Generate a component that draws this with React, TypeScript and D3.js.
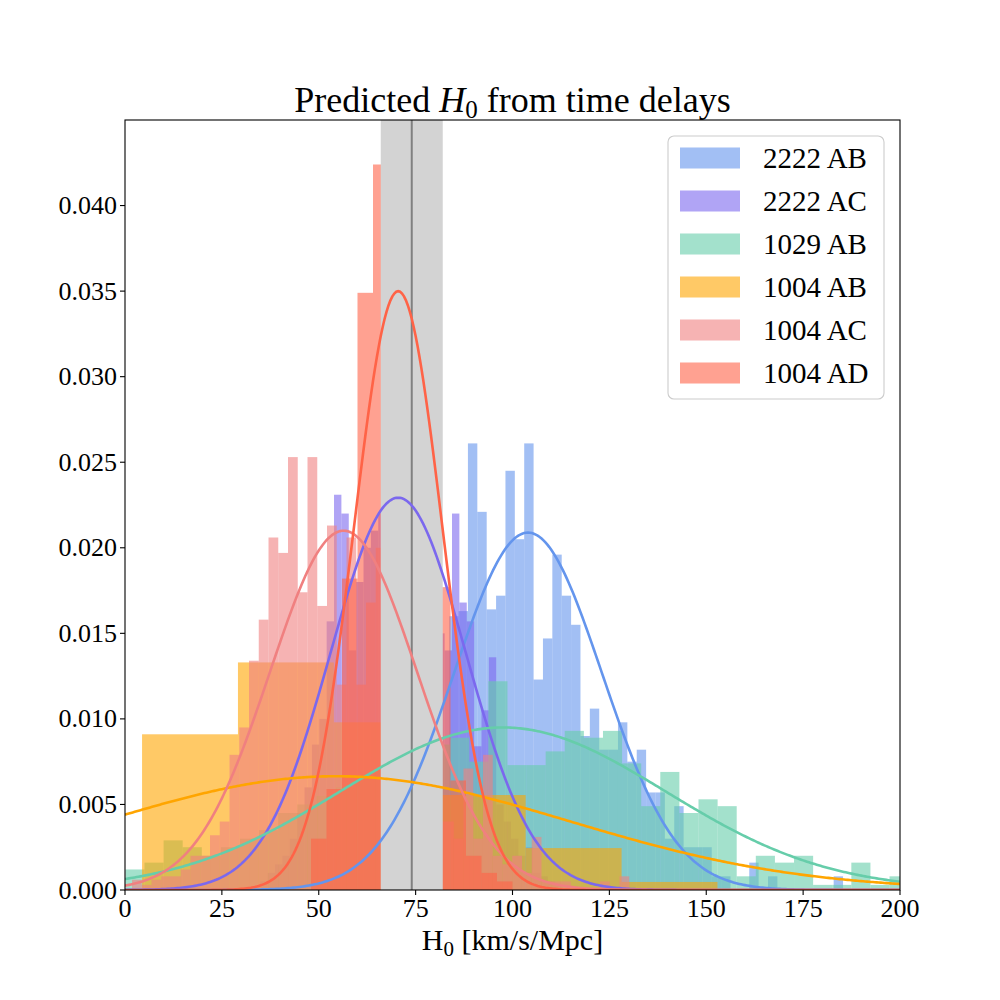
import React from "react";
import * as d3 from "d3";

// ---------- data ----------
const SERIES_NAMES = ["2222 AB", "2222 AC", "1029 AB", "1004 AB", "1004 AC", "1004 AD"];
const SERIES_COLORS = ["#6495ED", "#7B68EE", "#66CDAA", "#FFA500", "#F08080", "#FF6347"];

// histogram bins: first edge, bin width, density per bin
const AB2222_START = 81.24;
const AB2222_WIDTH = 2.42;
const AB2222_DENSITY = [
  0.006, 0.016, 0.0163, 0.0261, 0.0221, 0.0164, 0.0172, 0.0245, 0.0205, 0.0261,
  0.0123, 0.0147, 0.0196, 0.0172, 0.0155, 0.009, 0.0106, 0.0082, 0.0082, 0.0098,
  0.0075, 0.0082, 0.0057, 0.0057, 0.003, 0.0049, 0.0025, 0.0025, 0.0025, 0.0008,
  0.0008, 0, 0, 0.0016, 0, 0.0008, 0, 0, 0, 0, 0, 0, 0.0008,
];

const AC2222_START = 34.91;
const AC2222_WIDTH = 1.903;
const AC2222_DENSITY = [
  0.0005, 0.001, 0.0015, 0.002, 0.003, 0.0045, 0.006, 0.0085, 0.01, 0.0157,
  0.0231, 0.022, 0.014, 0.018, 0.02, 0.021, 0.022,
  0.022, 0.022, 0.021, 0.02, 0.02, 0.018, 0.016, 0.015,
  0.014,
  0.022, 0.0168, 0.0157, 0.0084, 0.0105, 0.0136, 0.005, 0.004, 0.003, 0.002,
  0.0025, 0.001, 0.0008, 0.0005, 0.0003,
];

const AB1029_START = 0.1;
const AB1029_WIDTH = 4.93;
const AB1029_DENSITY = [
  0.0012, 0.0016, 0.0029, 0.0025, 0.002, 0.0025, 0.003, 0.0035, 0.0045, 0.005,
  0.0055, 0.006, 0.0065, 0.007, 0.0075, 0.008, 0.0085, 0.0089, 0.0075, 0.0122,
  0.0073, 0.0073, 0.0081, 0.0093, 0.0089, 0.0093, 0.0074, 0.0049, 0.0069, 0.0045,
  0.0053, 0.0049, 0.0008, 0.002, 0.0016, 0.002, 0.0003, 0.0003, 0.0016, 0.0003,
  0.0008,
];

const AB1004_START = 4.4;
const AB1004_WIDTH = 24.75;
const AB1004_DENSITY = [0.0091, 0.0133, 0.0098, 0.00555, 0.00245, 0.00047];

const AC1004_START = 1.81;
const AC1004_WIDTH = 2.516;
const AC1004_DENSITY = [
  0.0006, 0.0003, 0.0006, 0.0008, 0.0008, 0.0012, 0.002, 0.002, 0.0032, 0.004,
  0.0079, 0.0095, 0.0134, 0.0158, 0.0206, 0.0197, 0.0253, 0.0174, 0.0253, 0.0166,
  0.0213, 0.012, 0.0206, 0.012, 0.0168, 0.02, 0.012, 0.01, 0.008, 0.006,
  0.005, 0.004, 0.004, 0.003, 0.0071, 0.003, 0.0079, 0.002, 0.0015, 0.002,
  0.001, 0.0031, 0.0005, 0.0005, 0.0005, 0, 0, 0, 0.0005, 0, 0.0008,
];

const AD1004_START = 48.0;
const AD1004_WIDTH = 4.0;
const AD1004_DENSITY = [
  0.003, 0.0059, 0.0182, 0.0349, 0.0424, 0.04, 0.035, 0.025, 0.0177, 0.0064,
  0.002, 0.001, 0.0005,
];

// gaussian fits (mean, sigma) for each series
const FIT_MEANS = [104.0, 70.5, 97.5, 54.5, 56.4, 70.5];
const FIT_SIGMAS = [19.1, 17.4, 42.0, 60.0, 19.0, 11.4];

// measured H0 band
const H0_CENTER = 74.0;
const H0_LOW = 66.0;
const H0_HIGH = 82.0;

const X_TICKS = [0, 25, 50, 75, 100, 125, 150, 175, 200];
const Y_TICKS = [0, 0.005, 0.01, 0.015, 0.02, 0.025, 0.03, 0.035, 0.04];

const HISTS = [
  { start: AB2222_START, width: AB2222_WIDTH, dens: AB2222_DENSITY },
  { start: AC2222_START, width: AC2222_WIDTH, dens: AC2222_DENSITY },
  { start: AB1029_START, width: AB1029_WIDTH, dens: AB1029_DENSITY },
  { start: AB1004_START, width: AB1004_WIDTH, dens: AB1004_DENSITY },
  { start: AC1004_START, width: AC1004_WIDTH, dens: AC1004_DENSITY },
  { start: AD1004_START, width: AD1004_WIDTH, dens: AD1004_DENSITY },
];

// ---------- layout ----------
const W = 1000;
const H = 1000;
const L = 125;
const R = 900;
const T = 120;
const B = 890;
const FONT = "'Liberation Serif', 'DejaVu Serif', serif";

export default function App() {
  const x = d3.scaleLinear().domain([0, 200]).range([L, R]);
  const y = d3.scaleLinear().domain([0, 0.045]).range([B, T]);

  const xs = d3.range(0, 200.01, 0.5);
  const line = d3
    .line<[number, number]>()
    .x((d) => x(d[0]))
    .y((d) => y(d[1]));
  const pdf = (v: number, m: number, s: number) =>
    Math.exp(-((v - m) * (v - m)) / (2 * s * s)) / (s * Math.sqrt(2 * Math.PI));

  const legendRows = SERIES_NAMES.map((n, i) => ({ n, c: SERIES_COLORS[i], cy: 158 + i * 43 }));

  return (
    <svg
      width={W}
      height={H}
      viewBox={`0 0 ${W} ${H}`}
      style={{ position: "absolute", left: 0, top: 0, background: "#fff" }}
      fontFamily={FONT}
    >
      <rect x={0} y={0} width={W} height={H} fill="#fff" />
      <defs>
        <clipPath id="plotclip">
          <rect x={L} y={T} width={R - L} height={B - T} />
        </clipPath>
      </defs>
      <g clipPath="url(#plotclip)">
        {HISTS.map((h, si) => (
          <g key={si} fill={SERIES_COLORS[si]} fillOpacity={0.6}>
            {h.dens.map((dv, k) => {
              if (dv <= 0) return null;
              const x0 = h.start + k * h.width;
              const x1 = x0 + h.width;
              return (
                <rect
                  key={k}
                  x={x(x0)}
                  y={y(dv)}
                  width={x(x1) - x(x0)}
                  height={y(0) - y(dv)}
                />
              );
            })}
          </g>
        ))}
        <rect x={x(H0_LOW)} y={T} width={x(H0_HIGH) - x(H0_LOW)} height={B - T} fill="#D3D3D3" />
        <line x1={x(H0_CENTER)} x2={x(H0_CENTER)} y1={T} y2={B} stroke="#808080" strokeWidth={2} />
        {FIT_MEANS.map((m, i) => (
          <path
            key={i}
            d={line(xs.map((v) => [v, pdf(v, m, FIT_SIGMAS[i])] as [number, number])) || ""}
            fill="none"
            stroke={SERIES_COLORS[i]}
            strokeWidth={2.6}
          />
        ))}
      </g>
      {/* frame */}
      <rect x={L} y={T} width={R - L} height={B - T} fill="none" stroke="#000" strokeWidth={1.1} />
      {/* x ticks */}
      {X_TICKS.map((t) => (
        <g key={t}>
          <line x1={x(t)} x2={x(t)} y1={B} y2={B + 5} stroke="#000" strokeWidth={1.1} />
          <text x={x(t)} y={B + 27} textAnchor="middle" fontSize={26} fill="#000">
            {t}
          </text>
        </g>
      ))}
      {Y_TICKS.map((t) => (
        <g key={t}>
          <line x1={L - 5} x2={L} y1={y(t)} y2={y(t)} stroke="#000" strokeWidth={1.1} />
          <text x={L - 8} y={y(t) + 8.5} textAnchor="end" fontSize={26} fill="#000">
            {t.toFixed(3)}
          </text>
        </g>
      ))}
      {/* axis label */}
      <text x={(L + R) / 2} y={950} textAnchor="middle" fontSize={30} fill="#000">
        H<tspan fontSize={21} dy={6}>0</tspan>
        <tspan dy={-6}> [km/s/Mpc]</tspan>
      </text>
      {/* title */}
      <text x={(L + R) / 2} y={112} textAnchor="middle" fontSize={36} fill="#000">
        Predicted <tspan fontStyle="italic">H</tspan>
        <tspan fontSize={25} dy={6}>0</tspan>
        <tspan dy={-6}> from time delays</tspan>
      </text>
      {/* legend */}
      <rect x={668} y={136} width={216} height={263} rx={6} fill="#fff" fillOpacity={0.8} stroke="#cccccc" strokeWidth={1.1} />
      {legendRows.map((r) => (
        <g key={r.n}>
          <rect x={680} y={r.cy - 10.5} width={60} height={21} fill={r.c} fillOpacity={0.6} />
          <text x={763} y={r.cy + 10} fontSize={29} fill="#000">
            {r.n}
          </text>
        </g>
      ))}
    </svg>
  );
}
